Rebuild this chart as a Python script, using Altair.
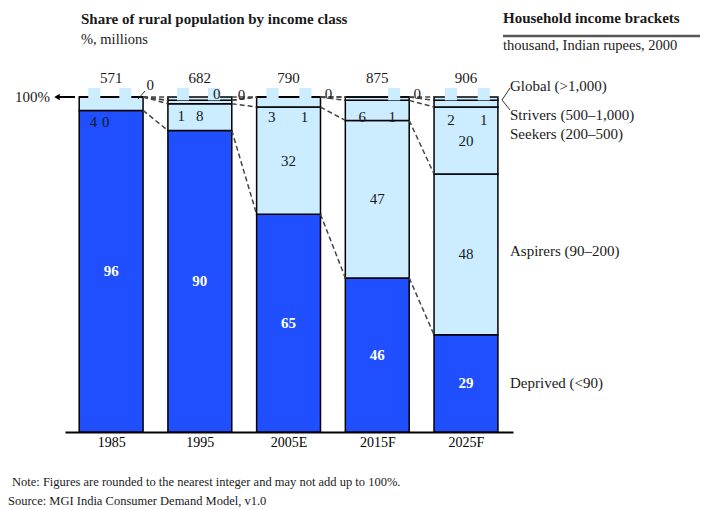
import json
import altair as alt
import pandas as pd

# ---------------- data ----------------
years = ["1985", "1995", "2005E", "2015F", "2025F"]
totals = [571, 682, 790, 875, 906]
classes = ["Deprived", "Aspirers", "Seekers", "Strivers", "Global"]
deprived = [96, 90, 65, 46, 29]
aspirers = [4, 8, 32, 47, 48]
seekers = [0, 1, 3, 6, 20]
strivers = [0, 0, 1, 1, 2]
global_ = [0, 0, 0, 0, 1]
class_colors = ["#1F4FFF", "#CCECFF", "#CCECFF", "#CCECFF", "#CCECFF"]

legend_labels = ["Global (>1,000)", "Strivers (500\u20131,000)", "Seekers (200\u2013500)",
                 "Aspirers (90\u2013200)", "Deprived (<90)"]
legend_y = [103.3, 94.6, 89.0, 54.0, 14.5]

# small labels near the top: (year index, class, x offset in bar units, y level %)
small_labels = [
    (0, "Aspirers", -0.20, 92.6), (0, "Seekers", -0.06, 92.6), (0, "Strivers", 0.44, 103.6),
    (1, "Seekers", -0.21, 94.4), (1, "Aspirers", 0.0, 94.4), (1, "Strivers", 0.19, 100.8),
    (1, "Global", 0.47, 100.6),
    (2, "Seekers", -0.19, 94.0), (2, "Strivers", 0.18, 94.0), (2, "Global", 0.45, 101.0),
    (3, "Seekers", -0.17, 94.0), (3, "Strivers", 0.17, 94.0), (3, "Global", 0.45, 100.8),
    (4, "Strivers", -0.17, 93.2), (4, "Global", 0.20, 93.2),
]
# light-blue label tabs above the bars: (year index, x offset)
tabs = [(0, -0.19), (0, 0.16), (1, -0.19), (1, 0.16), (2, -0.18), (2, 0.19),
        (3, 0.19), (4, -0.17), (4, 0.20)]

BW = 0.36
FONT = "Liberation Serif"
TXT = "#1a1a1a"
FS = 15

series = [deprived, aspirers, seekers, strivers, global_]

# ---------------- tables ----------------
seg_rows = []
bounds = {}
for i, yr in enumerate(years):
    cum = 0
    for k, c in enumerate(classes):
        v = series[k][i]
        lo = min(cum, 100)
        cum += v
        hi = 100 if k == len(classes) - 1 else min(cum, 100)
        bounds[(i, k)] = hi
        seg_rows.append(dict(year=yr, idx=i, cls=c, val=v, lo=lo, hi=hi,
                             mid=(lo + hi) / 2, x0=i - BW, x1=i + BW, xc=i,
                             big=int((hi - lo) >= 10), dep=int(c == "Deprived")))
seg = pd.DataFrame(seg_rows)
seg_dep = seg[(seg.big == 1) & (seg.dep == 1)]
seg_oth = seg[(seg.big == 1) & (seg.dep == 0)]

con_rows = []
for i in range(len(years) - 1):
    for k in range(len(classes)):
        con_rows.append(dict(xa=i + BW, xb=i + 1 - BW, ya=bounds[(i, k)], yb=bounds[(i + 1, k)]))
con = pd.DataFrame(con_rows)

sl = pd.DataFrame([dict(x=i + dx, y=yl, t=str(series[classes.index(c)][i]))
                   for i, c, dx, yl in small_labels])
tb = pd.DataFrame([dict(xa=i + dx - 0.068, xb=i + dx + 0.068, ya=99.0, yb=102.7)
                   for i, dx in tabs])
tot = pd.DataFrame(dict(x=list(range(len(years))), t=[str(v) for v in totals]))
leg = pd.DataFrame(dict(t=legend_labels, y=legend_y))
one = pd.DataFrame(dict(y=[100]))

xs = alt.Scale(domain=[-0.52, 4.53], nice=False, zero=False)
ys = alt.Scale(domain=[0, 100], nice=False, zero=False)

xaxis = alt.Axis(values=list(range(len(years))),
                 labelExpr=json.dumps(years) + "[datum.value]",
                 ticks=False, grid=False, domainColor="black", domainWidth=2,
                 labelFont=FONT, labelFontSize=14, labelColor="black",
                 labelPadding=3, title=None)


def X(field):
    return alt.X(field, scale=xs, axis=xaxis)


def Y(field):
    return alt.Y(field, scale=ys, axis=None)


bars = alt.Chart(seg).mark_rect(stroke="black", strokeWidth=1.5).encode(
    x=X("x0:Q"), x2="x1:Q", y=Y("lo:Q"), y2="hi:Q",
    color=alt.Color("cls:N", scale=alt.Scale(domain=classes, range=class_colors), legend=None),
)

connectors = alt.Chart(con).mark_rule(strokeDash=[5, 3], strokeWidth=1.5, color="#444").encode(
    x=X("xa:Q"), x2="xb:Q", y=Y("ya:Q"), y2="yb:Q",
)

tabs_layer = alt.Chart(tb).mark_rect(color="#CCECFF").encode(
    x=X("xa:Q"), x2="xb:Q", y=Y("ya:Q"), y2="yb:Q",
)

inside_dep = alt.Chart(seg_dep).mark_text(
    font=FONT, fontSize=FS, baseline="middle", fontWeight="bold", color="white").encode(
    x=X("xc:Q"), y=Y("mid:Q"), text="val:Q",
)
inside_other = alt.Chart(seg_oth).mark_text(
    font=FONT, fontSize=FS, baseline="middle", color=TXT).encode(
    x=X("xc:Q"), y=Y("mid:Q"), text="val:Q",
)

small = alt.Chart(sl).mark_text(font=FONT, fontSize=FS, baseline="middle", color=TXT).encode(
    x=X("x:Q"), y=Y("y:Q"), text="t:N",
)

totals_layer = alt.Chart(tot).mark_text(font=FONT, fontSize=FS, baseline="middle", color=TXT).encode(
    x=X("x:Q"), y=alt.value(-19), text="t:N",
)

legend_layer = alt.Chart(leg).mark_text(font=FONT, fontSize=FS, baseline="middle",
                                        align="left", color=TXT).encode(
    x=alt.value(445), y=Y("y:Q"), text="t:N",
)

hundred = alt.Chart(one).mark_text(font=FONT, fontSize=FS, baseline="middle",
                                   align="right", color=TXT, text="100%").encode(
    x=alt.value(-15), y=Y("y:Q"))
arrow_line = alt.Chart(one).mark_rule(color="black", strokeWidth=2).encode(
    x=alt.value(-8), x2=alt.value(10), y=Y("y:Q"))
arrow_head = alt.Chart(one).mark_point(shape="triangle-left", filled=True, size=40,
                                       color="black", opacity=1).encode(
    x=alt.value(-8), y=Y("y:Q"))

leader = alt.Chart(one).mark_rule(color="#333", strokeWidth=1).encode(
    x=alt.value(80), y=alt.value(-6), x2=alt.value(73), y2=alt.value(2))
brk1 = alt.Chart(one).mark_rule(color="#333", strokeWidth=1).encode(
    x=alt.value(445), y=alt.value(-9), x2=alt.value(437), y2=alt.value(3))
brk2 = alt.Chart(one).mark_rule(color="#333", strokeWidth=1).encode(
    x=alt.value(437), y=alt.value(3), x2=alt.value(445), y2=alt.value(13))


def note(txt, x, y, size=11, weight="normal"):
    return alt.Chart(one).mark_text(font=FONT, fontSize=size, fontWeight=weight,
                                    align="left", baseline="middle", color=TXT,
                                    text=txt).encode(x=alt.value(x), y=alt.value(y))


title1 = note("Share of rural population by income class", 16, -78, 15, "bold")
title2 = note("%, millions", 16, -57, 14.5)
head1 = note("Household income brackets", 438, -79, 15, "bold")
head_rule = alt.Chart(one).mark_rule(color="#555", strokeWidth=2.5).encode(
    x=alt.value(438), x2=alt.value(645), y=alt.value(-61))
head2 = note("thousand, Indian rupees, 2000", 438, -51, 14.5)
foot1 = note("Note: Figures are rounded to the nearest integer and may not add up to 100%.", -53, 385, 12.5)
foot2 = note("Source: MGI India Consumer Demand Model, v1.0", -57, 404, 12.5)

chart = alt.layer(
    bars, tabs_layer, connectors, inside_dep, inside_other, small, totals_layer, legend_layer,
    hundred, arrow_line, arrow_head, leader, brk1, brk2,
    title1, title2, head1, head_rule, head2, foot1, foot2,
).properties(
    width=448, height=335,
    padding={"left": 57, "top": 89, "right": 187, "bottom": 78},
    autosize=alt.AutoSizeParams(type="none"),
).configure_view(stroke=None)

chart.save("out.html", embed_options={"renderer": "svg", "actions": False})
